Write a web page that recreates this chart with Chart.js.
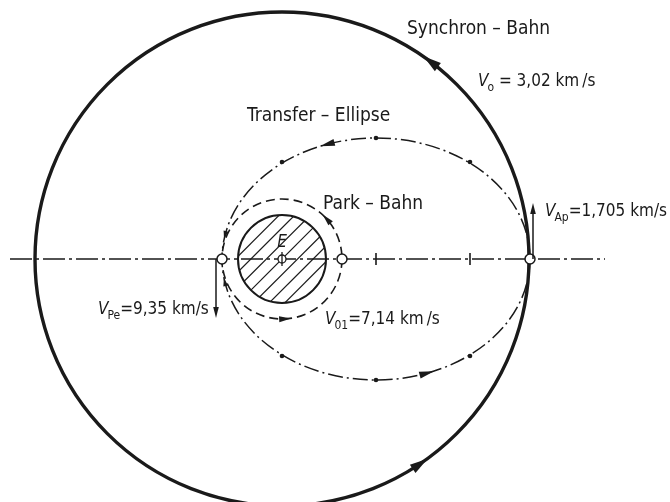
<!DOCTYPE html>
<html>
<head>
<meta charset="utf-8">
<script src="https://cdn.jsdelivr.net/npm/chart.js@4/dist/chart.umd.min.js"></script>
<style>
  html, body { margin: 0; padding: 0; background: #fff; }
  #wrap { width: 670px; height: 502px; }
</style>
</head>
<body>
<div id="wrap"><canvas id="orbitChart"></canvas></div>
<script>
// Bahnen in Zeichnungseinheiten, Erdmittelpunkt = (0,0)
const orbitNames   = ['Synchron – Bahn', 'Transfer – Ellipse', 'Park – Bahn', 'Erde'];
const orbitCenterX = [0, 94, 0, 0];
const orbitRadiusX = [247, 154, 60, 44];
const orbitRadiusY = [247, 121, 60, 44];

// Punkte auf der Achse: Perigaeum, Park-Bahn, Apogaeum
const nodeX = [-60, 60, 248];
const nodeY = [0, 0, 0];

// Punkte auf der Transfer-Ellipse
const ellipseDotX = [0, 94, 188, 0, 94, 188];
const ellipseDotY = [97, 121, 97, -97, -121, -97];

// Teilstriche und Achse
const tickX = [94, 188];
const axisX = [-272, 323];

// Richtungspfeile: Bahn, Parameterwinkel (Grad), Richtung (1 = Gegenuhrzeigersinn)
const arrowOrbit = [0, 0, 1, 1, 1, 1, 2, 2];
const arrowAngle = [53, -56, 108.5, -70.7, 168.6, -169, 42, -87];
const arrowDir   = [1, 1, 1, 1, 1, -1, 1, 1];

// Geschwindigkeitsvektoren (Anfang -> Spitze)
const velStartX = [-66, 251];
const velStartY = [0, 0];
const velEndX   = [-66, 251];
const velEndY   = [-59, 56];

// Beschriftungen: Teile [Text, Art]  n = normal, i = kursiv, s = Index
const labelParts = [
    [['Synchron – Bahn', 'n']],
    [['V', 'i'], ['o', 's'], [' = 3,02 km\u2009/s', 'n']],
    [['Transfer – Ellipse', 'n']],
    [['Park – Bahn', 'n']],
    [['V', 'i'], ['Ap', 's'], ['=1,705 km/s', 'n']],
    [['V', 'i'], ['Pe', 's'], ['=9,35 km/s', 'n']],
    [['V', 'i'], ['01', 's'], ['=7,14 km\u2009/s', 'n']],
    [['E', 'i']]
];
const labelX = [125, 196, -35, 41, 263, -184, 43, 0];
const labelY = [230, 177, 143, 55, 47, -51, -61, 16];

const INK = '#1a1a1a';
const FONT = '"DejaVu Sans Condensed", "DejaVu Sans", sans-serif';

// Stil je Bahn
const orbitStyle = [
    { width: 3.4, dash: [], arrow: [18, 5] },
    { width: 1.5, dash: [15, 4, 2, 4], arrow: [15, 3.5] },
    { width: 1.6, dash: [9, 5], arrow: [12, 3] },
    { width: 2, dash: [], arrow: [0, 0] }
];

function arrowHead(ctx, tipX, tipY, dx, dy, len, half) {
    const bx = tipX - dx * len, by = tipY - dy * len;
    ctx.beginPath();
    ctx.moveTo(tipX, tipY);
    ctx.lineTo(bx - dy * half, by + dx * half);
    ctx.lineTo(bx + dy * half, by - dx * half);
    ctx.closePath();
    ctx.fill();
}

const orbitPlugin = {
    id: 'orbits',
    beforeDatasetsDraw(chart) {
        const { ctx, scales: { x, y } } = chart;
        ctx.save();
        ctx.strokeStyle = INK;
        orbitNames.forEach((name, i) => {
            const cx = x.getPixelForValue(orbitCenterX[i]);
            const cy = y.getPixelForValue(0);
            const rx = x.getPixelForValue(orbitCenterX[i] + orbitRadiusX[i]) - cx;
            const ry = cy - y.getPixelForValue(orbitRadiusY[i]);
            ctx.lineWidth = orbitStyle[i].width;
            ctx.setLineDash(orbitStyle[i].dash);
            ctx.beginPath();
            ctx.ellipse(cx, cy, rx, ry, 0, 0, Math.PI * 2);
            ctx.stroke();
            if (name === 'Erde') {
                // Schraffur
                ctx.save();
                ctx.beginPath();
                ctx.ellipse(cx, cy, rx, ry, 0, 0, Math.PI * 2);
                ctx.clip();
                ctx.lineWidth = 1.2;
                ctx.setLineDash([]);
                for (let k = -6; k <= 6; k++) {
                    const off = k * 11 * Math.SQRT2;
                    ctx.beginPath();
                    ctx.moveTo(cx - rx - 10 + off, cy + rx + 10);
                    ctx.lineTo(cx + rx + 10 + off, cy - rx - 10);
                    ctx.stroke();
                }
                ctx.restore();
            }
        });
        ctx.restore();
    },
    afterDatasetsDraw(chart) {
        const { ctx, scales: { x, y } } = chart;
        ctx.save();
        ctx.fillStyle = INK;
        ctx.strokeStyle = INK;

        // Richtungspfeile auf den Bahnen
        arrowOrbit.forEach((o, i) => {
            const t = arrowAngle[i] * Math.PI / 180;
            const pt = tt => [
                x.getPixelForValue(orbitCenterX[o] + orbitRadiusX[o] * Math.cos(tt)),
                y.getPixelForValue(orbitRadiusY[o] * Math.sin(tt))
            ];
            const [x0, y0] = pt(t);
            const [x1, y1] = pt(t + arrowDir[i] * 0.01);
            const d = Math.hypot(x1 - x0, y1 - y0);
            const dx = (x1 - x0) / d, dy = (y1 - y0) / d;
            let [len, half] = orbitStyle[o].arrow;
            if (o === 1 && Math.abs(arrowAngle[i]) > 160) { len = 8; half = 2.5; }
            arrowHead(ctx, x0 + dx * len / 2, y0 + dy * len / 2, dx, dy, len, half);
        });

        // Geschwindigkeitsvektoren
        ctx.lineWidth = 1.5;
        ctx.setLineDash([]);
        velStartX.forEach((sx, i) => {
            const ax = x.getPixelForValue(sx), ay = y.getPixelForValue(velStartY[i]);
            const bx = x.getPixelForValue(velEndX[i]), by = y.getPixelForValue(velEndY[i]);
            const d = Math.hypot(bx - ax, by - ay);
            const dx = (bx - ax) / d, dy = (by - ay) / d;
            ctx.beginPath();
            ctx.moveTo(ax, ay);
            ctx.lineTo(bx - dx * 6, by - dy * 6);
            ctx.stroke();
            arrowHead(ctx, bx, by, dx, dy, 11, 2.8);
        });

        // Beschriftungen
        ctx.textBaseline = 'middle';
        ctx.textAlign = 'left';
        labelParts.forEach((parts, i) => {
            let px = x.getPixelForValue(labelX[i]);
            const py = y.getPixelForValue(labelY[i]);
            const single = parts.length === 1 && parts[0][1] === 'i';
            const isName = parts.length === 1 && parts[0][1] === 'n';
            parts.forEach(([txt, kind]) => {
                if (kind === 'i') ctx.font = 'italic 17px ' + FONT;
                else if (kind === 's') ctx.font = '12px ' + FONT;
                else ctx.font = (isName ? '19px ' : '17px ') + FONT;
                const w = ctx.measureText(txt).width;
                const drawX = single ? px - w / 2 : px;
                ctx.fillText(txt, drawX, kind === 's' ? py + 6 : py);
                px += w + (kind === 'i' ? -1 : 0);
            });
        });
        ctx.restore();
    }
};

const ctx = document.getElementById('orbitChart').getContext('2d');
new Chart(ctx, {
    type: 'scatter',
    data: {
        datasets: [
            {
                label: 'Knoten',
                data: nodeX.map((v, i) => ({ x: v, y: nodeY[i] })),
                pointRadius: 5, pointBackgroundColor: '#fff', pointBorderColor: INK, pointBorderWidth: 1.5,
                order: 0
            },
            {
                label: 'Erdmittelpunkt Linie',
                data: [{ x: 0, y: 0 }],
                pointStyle: 'line', rotation: 90, pointRadius: 7, pointBorderColor: INK, pointBorderWidth: 1.3,
                order: 1
            },
            {
                label: 'Erdmittelpunkt',
                data: [{ x: 0, y: 0 }],
                pointRadius: 4, pointBackgroundColor: '#fff', pointBorderColor: INK, pointBorderWidth: 1.3,
                order: 2
            },
            {
                label: 'Ellipsenpunkte',
                data: ellipseDotX.map((v, i) => ({ x: v, y: ellipseDotY[i] })),
                pointRadius: 2.3, pointBackgroundColor: INK, pointBorderWidth: 0,
                order: 3
            },
            {
                label: 'Teilstriche',
                data: tickX.map(v => ({ x: v, y: 0 })),
                pointStyle: 'line', rotation: 90, pointRadius: 6, pointBorderColor: INK, pointBorderWidth: 1.6,
                order: 4
            },
            {
                label: 'Achse',
                data: axisX.map(v => ({ x: v, y: 0 })),
                showLine: true, borderColor: INK, borderWidth: 1.5, borderDash: [22, 4, 3, 4],
                pointRadius: 0, order: 5
            }
        ]
    },
    options: {
        responsive: true,
        maintainAspectRatio: false,
        animation: false,
        layout: { padding: 0, autoPadding: false },
        plugins: { legend: { display: false }, tooltip: { enabled: false } },
        scales: {
            x: { type: 'linear', min: -282, max: 388, display: false },
            y: { type: 'linear', min: -243, max: 259, display: false }
        }
    },
    plugins: [orbitPlugin]
});
</script>
</body>
</html>
